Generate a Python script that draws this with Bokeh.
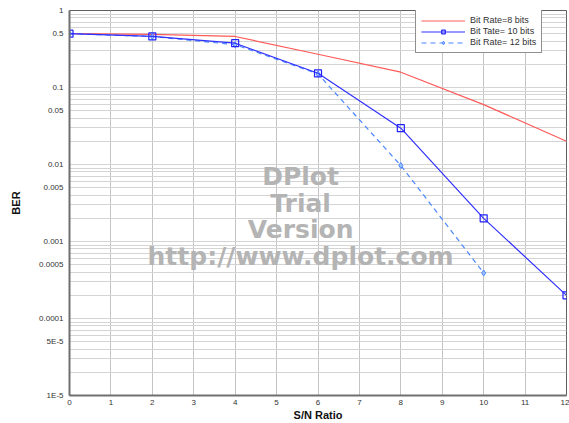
from bokeh.plotting import figure
from bokeh.models import FixedTicker, Label, Legend, LegendItem
from bokeh.embed import file_html
from bokeh.resources import INLINE

snr = [0, 2, 4, 6, 8, 10, 12]
ber_8 = [0.5, 0.49, 0.46, 0.27, 0.158, 0.06, 0.02]
ber_10 = [0.5, 0.46, 0.376, 0.153, 0.0296, 0.002, 0.0002]
snr_12 = [0, 2, 4, 6, 8, 10]
ber_12 = [0.5, 0.46, 0.36, 0.15, 0.0097, 0.00039]

y_ticks = [1, 0.5, 0.1, 0.05, 0.01, 0.005, 0.001, 0.0005, 0.0001, 0.00005, 0.00001]
y_tick_labels = ["1", "0.5", "0.1", "0.05", "0.01", "0.005", "0.001", "0.0005", "0.0001", "5E-5", "1E-5"]
x_ticks = list(range(0, 13))
watermark = ["DPlot", "Trial", "Version", "http://www.dplot.com"]
legend_labels = ["Bit Rate=8 bits", "Bit Tate= 10 bits", "Bit Rate= 12 bits"]

p = figure(width=569, height=423, output_backend="svg", toolbar_location=None,
           y_axis_type="log", x_range=(0, 12), y_range=(1e-5, 1),
           min_border_left=69, min_border_right=3, min_border_top=10, min_border_bottom=28)
p.background_fill_color = "white"
p.border_fill_color = "white"
p.outline_line_color = "#606060"
p.outline_line_width = 1

# grid
grid_vals = []
for k in range(-5, 1):
    for m in range(1, 10):
        v = m * 10.0 ** k
        if v <= 1.0000001:
            grid_vals.append(v)
p.ygrid.ticker = FixedTicker(ticks=grid_vals)
p.ygrid.grid_line_color = "#d4d4d4"
p.ygrid.grid_line_width = 1
p.xgrid.ticker = FixedTicker(ticks=x_ticks)
p.xgrid.grid_line_color = "#c4c4c4"
p.xgrid.grid_line_width = 1

# axes
p.yaxis.ticker = FixedTicker(ticks=y_ticks)
p.yaxis.major_label_overrides = {v: l for v, l in zip(y_ticks, y_tick_labels)}
p.xaxis.ticker = FixedTicker(ticks=x_ticks)
for ax in (p.xaxis, p.yaxis):
    ax.major_tick_line_color = None
    ax.minor_tick_line_color = None
    ax.major_tick_out = 0
    ax.major_tick_in = 0
    ax.minor_tick_out = 0
    ax.minor_tick_in = 0
    ax.axis_line_color = "#707070"
    ax.axis_line_width = 2
    ax.major_label_text_font = "Liberation Sans"
    ax.major_label_text_font_size = "8px"
    ax.major_label_text_color = "#333333"
    ax.axis_label_text_font = "Liberation Sans"
    ax.axis_label_text_font_style = "bold"
    ax.axis_label_text_font_size = "11px"
    ax.axis_label_text_color = "#111111"
p.yaxis.major_label_standoff = 6
p.xaxis.major_label_standoff = 4
p.yaxis.axis_label = "BER"
p.xaxis.axis_label = "S/N Ratio"
p.yaxis.axis_label_standoff = 14
p.xaxis.axis_label_standoff = 1

# watermark
wm_x = [5.58, 5.58, 5.58, 5.58]
wm_y = [0.00699, 0.00312, 0.00143, 0.000638]
for t, xx, yy in zip(watermark, wm_x, wm_y):
    p.add_layout(Label(x=xx, y=yy, text=t, text_align="center", text_baseline="middle",
                       text_font="DejaVu Sans", text_font_style="bold",
                       text_font_size="25px", text_color="#b4b4b4"))

# series
r8 = p.line(snr, ber_8, line_color="#ff5a5a", line_width=1.2)
r12l = p.line(snr_12, ber_12, line_color="#4a86ff", line_width=1.2, line_dash="5 4")
r12m = p.scatter(snr_12, ber_12, marker="diamond", size=6, line_color="#4a86ff",
                 fill_color="#a0c0ff", line_width=1)
r10l = p.line(snr, ber_10, line_color="#3030ff", line_width=1.2)
r10m = p.scatter(snr, ber_10, marker="square", size=7, line_color="#2020ff",
                 fill_color=None, line_width=1.2)

legend = Legend(items=[
    LegendItem(label=legend_labels[0], renderers=[r8]),
    LegendItem(label=legend_labels[1], renderers=[r10l, r10m]),
    LegendItem(label=legend_labels[2], renderers=[r12l, r12m]),
], location=(346, 342))
legend.border_line_color = "#222222"
legend.border_line_width = 1
legend.background_fill_color = "white"
legend.background_fill_alpha = 1
legend.label_text_font = "Liberation Sans"
legend.label_text_font_size = "9px"
legend.label_text_color = "#333333"
legend.glyph_width = 44
legend.glyph_height = 9
legend.label_height = 9
legend.label_standoff = 5
legend.spacing = 1
legend.padding = 5
legend.margin = 0
p.add_layout(legend)

open("out.html", "w").write(file_html(p, INLINE))
